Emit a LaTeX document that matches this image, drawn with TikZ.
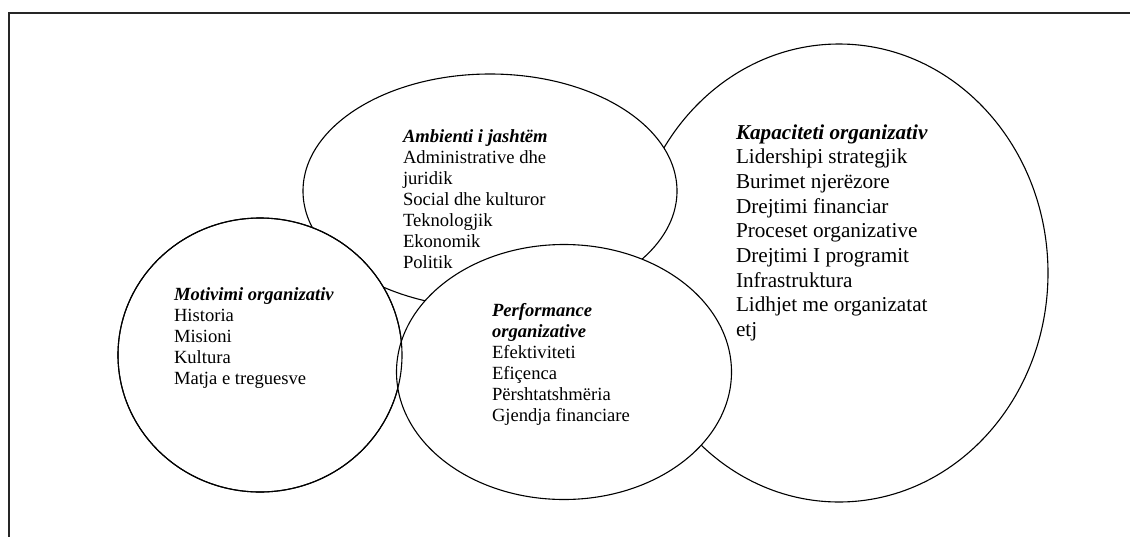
\documentclass[tikz,border=0pt]{standalone}
\usepackage{fontspec}
\setmainfont{Liberation Serif}
\usetikzlibrary{shapes.geometric}

\tikzset{
  blob/.style={ellipse, draw=black, fill=white, line width=1.1pt, inner sep=0pt, outer sep=0pt},
  rim/.style={ellipse, draw=black, line width=1.1pt, inner sep=0pt, outer sep=0pt},
  txt/.style={anchor=base west, inner sep=0pt, outer sep=0pt},
  frame/.style={draw=black!85, line width=1.6pt}
}
\newcommand{\smalltxt}{\fontsize{18.6pt}{21pt}\selectfont}
\newcommand{\bigtxt}{\fontsize{21.2pt}{24.7pt}\selectfont}
\newcommand{\head}[1]{\textbf{\textit{#1}}}

\begin{document}
\begin{tikzpicture}[x=1pt, y=-1pt]
  \useasboundingbox (0,0) rectangle (1130,536);
  \clip (0,0) rectangle (1130,536);

  % outer frame (only its top and left sides fall inside the page)
  \draw[frame] (9,13) rectangle (1150,560);

  % the four areas
  \node[blob, minimum width=418pt, minimum height=458pt] (kap) at (839,273) {};
  \node[blob, minimum width=374pt, minimum height=234pt] (amb) at (490,191) {};
  \node[blob, minimum width=284pt, minimum height=274pt] (mot) at (260,355) {};
  \node[blob, minimum width=335pt, minimum height=255pt] (perf) at (564,372) {};
  \node[rim, minimum width=284pt, minimum height=274pt] (motrim) at (260,355) {};

  % texts
  \node[txt] (kaptxt) at (736,139) {\bigtxt\begin{tabular}[t]{@{}l@{}}
    \head{Kapaciteti organizativ}\\
    Lidershipi strategjik\\
    Burimet njerëzore\\
    Drejtimi financiar\\
    Proceset organizative\\
    Drejtimi I programit\\
    Infrastruktura\\
    Lidhjet me organizatat\\
    etj
  \end{tabular}};

  \node[txt] (ambtxt) at (403,142) {\smalltxt\begin{tabular}[t]{@{}l@{}}
    \head{Ambienti i jashtëm}\\
    Administrative dhe\\
    juridik\\
    Social dhe kulturor\\
    Teknologjik\\
    Ekonomik\\
    Politik
  \end{tabular}};

  \node[txt] (mottxt) at (174,300) {\smalltxt\begin{tabular}[t]{@{}l@{}}
    \head{Motivimi organizativ}\\
    Historia\\
    Misioni\\
    Kultura\\
    Matja e treguesve
  \end{tabular}};

  \node[txt] (perftxt) at (492,316) {\smalltxt\begin{tabular}[t]{@{}l@{}}
    \head{Performance}\\
    \head{organizative}\\
    Efektiviteti\\
    Efiçenca\\
    Përshtatshmëria\\
    Gjendja financiare
  \end{tabular}};
\end{tikzpicture}
\end{document}
